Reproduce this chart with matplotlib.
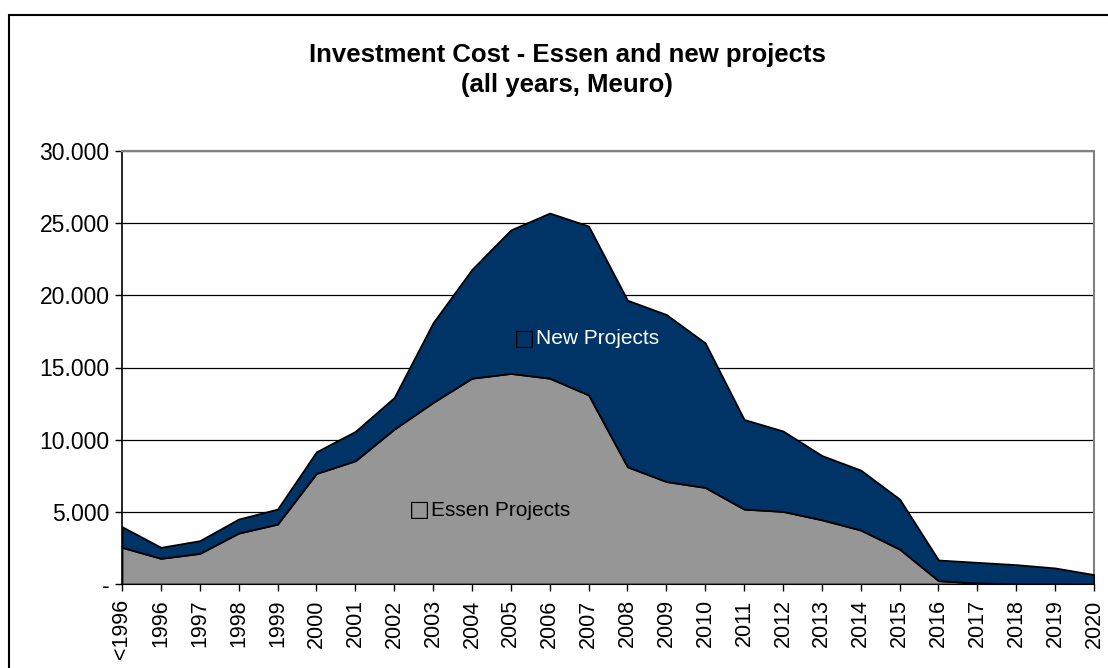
import matplotlib.pyplot as plt
from matplotlib.patches import Rectangle
from matplotlib.ticker import FuncFormatter

plt.rcParams['font.family'] = ['Liberation Sans', 'DejaVu Sans']

years = ['<1996'] + [str(y) for y in range(1996, 2021)]
# values in Meuro
essen = [2540, 1780, 2120, 3530, 4150, 7660, 8540, 10730, 12580, 14260,
         14590, 14260, 13100, 8120, 7100, 6690, 5190, 5030, 4450, 3740,
         2420, 230, 70, 20, 20, 0]
new_projects = [1430, 760, 880, 970, 1040, 1500, 2030, 2190, 5520, 7540,
                9940, 11440, 11700, 11540, 11570, 10010, 6210, 5570, 4450, 4150,
                3460, 1430, 1430, 1320, 1090, 650]

grey = '#969696'
navy = '#003366'

fig = plt.figure(figsize=(11.08, 6.68), dpi=100)
ax = fig.add_axes([122 / 1108, 1 - 584 / 668, 972 / 1108, 433 / 668])

x = range(len(years))
ax.stackplot(x, essen, new_projects, colors=[grey, navy],
             edgecolor='black', linewidth=1.3, zorder=3)

ax.set_xlim(0, len(years) - 1)
ax.set_ylim(0, 30000)
ax.set_yticks(range(0, 30001, 5000))
ax.yaxis.set_major_formatter(FuncFormatter(
    lambda v, p: '-' if v == 0 else f'{int(v):,}'.replace(',', '.')))
ax.set_xticks(list(x))
ax.set_xticklabels(years, rotation=90)
ax.tick_params(direction='out', length=5, width=1, colors='black')
ax.tick_params(axis='y', labelsize=16.5, pad=4)
ax.tick_params(axis='x', labelsize=15.5, pad=6)

ax.grid(axis='y', color='black', linewidth=0.9, zorder=1)
for s in ['top', 'right']:
    ax.spines[s].set_color('#808080')
    ax.spines[s].set_linewidth(1.5)
ax.spines['left'].set_linewidth(1.2)
ax.spines['bottom'].set_linewidth(1.5)

# in-plot series labels
ax.text(10.34, 17000, '\u25a1', color='black', fontsize=16, ha='center', va='center',
        family=['DejaVu Sans'], zorder=5)
ax.text(10.64, 17000, 'New Projects', color='white', fontsize=15, va='center', zorder=5)
ax.text(7.64, 5100, '\u25a1', color='black', fontsize=16, ha='center', va='center',
        family=['DejaVu Sans'], zorder=5)
ax.text(7.94, 5100, 'Essen Projects', color='black', fontsize=15, va='center', zorder=5)

fig.text(0.512, 1 - 70 / 668, 'Investment Cost - Essen and new projects\n(all years, Meuro)',
         ha='center', va='center', fontsize=18.5, fontweight='bold', linespacing=1.3)

# chart frame
fig.patches.append(Rectangle((9 / 1108, -0.1), 1.2, 1 - 15 / 668 + 0.1,
                             transform=fig.transFigure, fill=False,
                             edgecolor='black', linewidth=1.5))

fig.savefig('out.png', dpi=100)
